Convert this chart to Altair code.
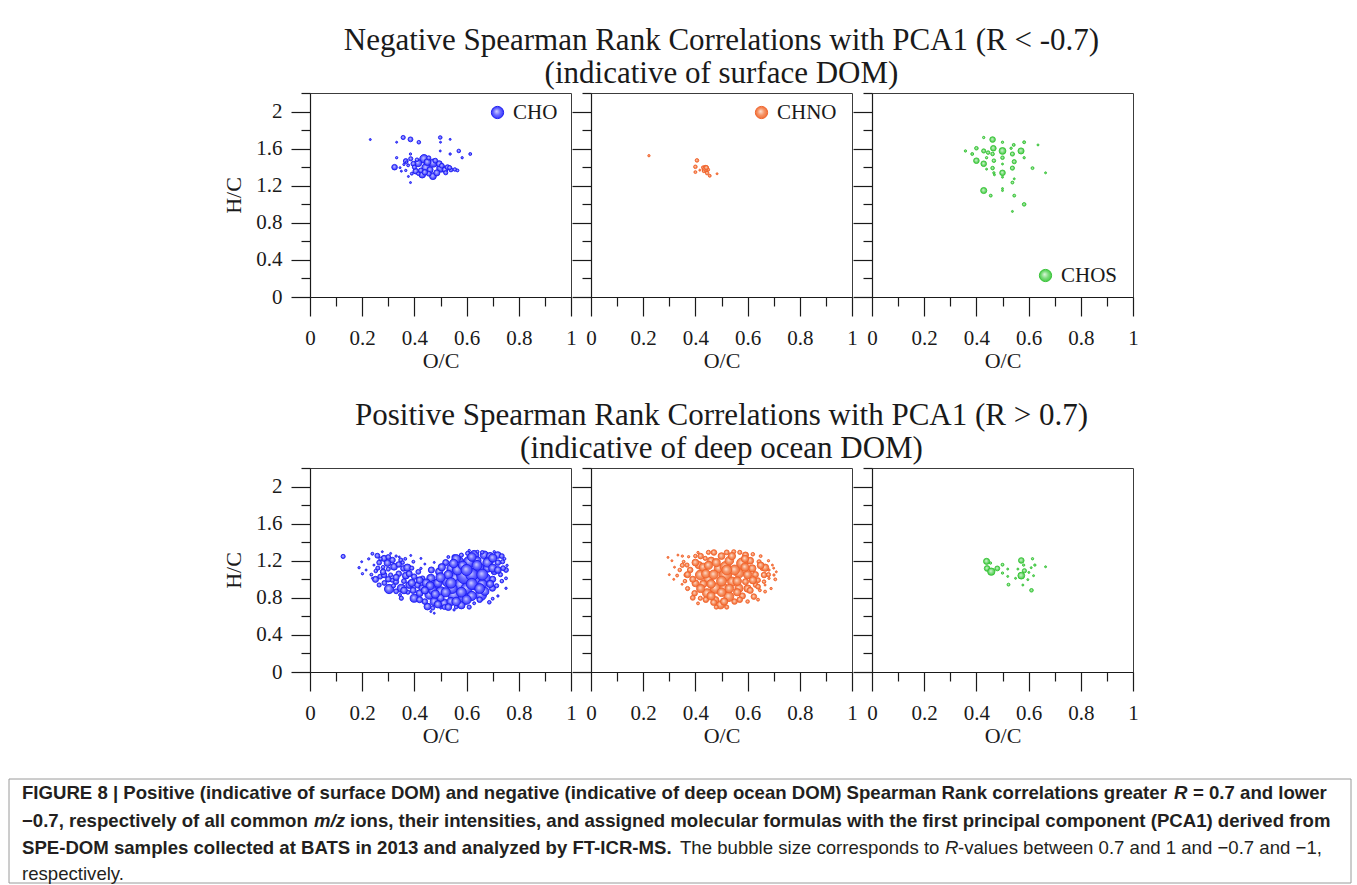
import altair as alt
import pandas as pd

SERIF = "Liberation Serif, Times New Roman, serif"
SANS = "Liberation Sans, Arial, sans-serif"

# ---- data: O/C ratio, H/C ratio and |R| for each assigned formula ----
# Negative correlations (surface DOM)
cho_neg_oc = [0.231, 0.332, 0.357, 0.385, 0.417, 0.499, 0.500, 0.537, 0.570, 0.614,
              0.583, 0.537, 0.499, 0.385, 0.332, 0.385, 0.377, 0.324, 0.367, 0.350,
              0.367, 0.437, 0.472, 0.444, 0.414, 0.501, 0.430, 0.471, 0.405, 0.486,
              0.517, 0.540, 0.460, 0.396, 0.386, 0.425, 0.450, 0.527, 0.495, 0.555,
              0.565, 0.520, 0.455, 0.400, 0.376, 0.360, 0.345, 0.410, 0.480, 0.505,
              0.535, 0.440, 0.415, 0.390, 0.370, 0.455]
cho_neg_hc = [1.698, 1.669, 1.720, 1.700, 1.669, 1.720, 1.669, 1.700, 1.575, 1.542,
              1.502, 1.542, 1.575, 1.542, 1.502, 1.234, 1.300, 1.400, 1.466, 1.357,
              1.365, 1.490, 1.444, 1.394, 1.444, 1.390, 1.320, 1.303, 1.357, 1.339,
              1.372, 1.372, 1.372, 1.437, 1.491, 1.365, 1.455, 1.400, 1.437, 1.375,
              1.365, 1.340, 1.330, 1.400, 1.420, 1.430, 1.395, 1.480, 1.470, 1.415,
              1.395, 1.345, 1.330, 1.330, 1.455, 1.500]
cho_neg_r = [0.700, 0.700, 0.709, 0.713, 0.706, 0.706, 0.700, 0.700, 0.706, 0.703,
             0.701, 0.701, 0.700, 0.701, 0.701, 0.700, 0.700, 0.718, 0.713, 0.700,
             0.701, 0.746, 0.740, 0.740, 0.733, 0.740, 0.728, 0.728, 0.718, 0.722,
             0.718, 0.709, 0.722, 0.713, 0.709, 0.713, 0.728, 0.713, 0.722, 0.706,
             0.703, 0.709, 0.713, 0.709, 0.703, 0.701, 0.700, 0.706, 0.713, 0.713,
             0.709, 0.718, 0.706, 0.703, 0.701, 0.709]

chno_neg_oc = [0.222, 0.406, 0.400, 0.400, 0.417, 0.438, 0.432, 0.445, 0.455, 0.428,
               0.449, 0.483, 0.442]
chno_neg_hc = [1.524, 1.473, 1.404, 1.347, 1.368, 1.383, 1.357, 1.336, 1.307, 1.400,
               1.372, 1.329, 1.395]
chno_neg_r = [0.701, 0.706, 0.706, 0.703, 0.700, 0.728, 0.703, 0.706, 0.703, 0.701,
              0.703, 0.700, 0.709]

chos_neg_oc = [0.428, 0.462, 0.500, 0.543, 0.583, 0.636, 0.358, 0.400, 0.384, 0.428,
               0.445, 0.465, 0.462, 0.500, 0.533, 0.538, 0.571, 0.500, 0.439, 0.583,
               0.400, 0.428, 0.467, 0.545, 0.500, 0.462, 0.439, 0.538, 0.615, 0.665,
               0.467, 0.469, 0.500, 0.500, 0.545, 0.538, 0.428, 0.455, 0.500, 0.500,
               0.545, 0.583, 0.538]
chos_neg_hc = [1.720, 1.698, 1.669, 1.640, 1.669, 1.640, 1.575, 1.604, 1.542, 1.575,
               1.557, 1.604, 1.542, 1.575, 1.604, 1.542, 1.575, 1.502, 1.502, 1.502,
               1.470, 1.437, 1.470, 1.459, 1.434, 1.390, 1.379, 1.390, 1.390, 1.339,
               1.339, 1.318, 1.339, 1.292, 1.274, 1.234, 1.148, 1.093, 1.169, 1.148,
               1.093, 0.999, 0.923]
chos_neg_r = [0.701, 0.718, 0.701, 0.703, 0.703, 0.700, 0.701, 0.706, 0.703, 0.709,
              0.706, 0.718, 0.706, 0.728, 0.701, 0.709, 0.722, 0.706, 0.701, 0.701,
              0.718, 0.718, 0.706, 0.709, 0.700, 0.706, 0.700, 0.709, 0.703, 0.700,
              0.701, 0.700, 0.718, 0.700, 0.700, 0.703, 0.722, 0.703, 0.700, 0.700,
              0.703, 0.706, 0.700]

# Positive correlations (deep ocean DOM)
cho_pos_oc = [0.127, 0.188, 0.198, 0.201, 0.239, 0.258, 0.277, 0.284, 0.297, 0.252,
              0.251, 0.269, 0.284, 0.265, 0.303, 0.316, 0.322, 0.309, 0.329, 0.348,
              0.358, 0.350, 0.350, 0.367, 0.373, 0.380, 0.399, 0.396, 0.399, 0.412,
              0.431, 0.431, 0.425, 0.450, 0.457, 0.463, 0.476, 0.476, 0.476, 0.495,
              0.501, 0.514, 0.527, 0.540, 0.552, 0.552, 0.559, 0.572, 0.578, 0.597,
              0.591, 0.610, 0.629, 0.636, 0.629, 0.648, 0.655, 0.668, 0.674, 0.687,
              0.687, 0.699, 0.706, 0.719, 0.738, 0.751, 0.751, 0.751, 0.706, 0.642,
              0.604, 0.552, 0.342, 0.386, 0.425, 0.440, 0.476, 0.501, 0.463, 0.418,
              0.239, 0.245, 0.309, 0.520, 0.530, 0.545, 0.565, 0.585, 0.600, 0.620,
              0.640, 0.660, 0.680, 0.700, 0.690, 0.720, 0.735, 0.730, 0.715, 0.670,
              0.620, 0.580, 0.540, 0.500, 0.490, 0.505, 0.465, 0.445, 0.470, 0.420,
              0.440, 0.395, 0.360, 0.340, 0.330, 0.285, 0.265, 0.300, 0.280, 0.315,
              0.355, 0.415, 0.390, 0.610, 0.650, 0.735, 0.745, 0.755, 0.660, 0.610,
              0.580, 0.530, 0.515, 0.470, 0.560, 0.720, 0.700, 0.225, 0.215, 0.235,
              0.270, 0.330, 0.365, 0.320, 0.375, 0.345, 0.560, 0.600, 0.640, 0.680,
              0.700, 0.660, 0.620, 0.580, 0.540, 0.520, 0.480, 0.500, 0.460, 0.550,
              0.620, 0.700, 0.720, 0.690, 0.650, 0.600, 0.560, 0.530, 0.490, 0.440,
              0.420, 0.390, 0.360, 0.330, 0.300, 0.280, 0.260, 0.300, 0.340, 0.380,
              0.420, 0.740]
cho_pos_hc = [1.246, 1.125, 1.189, 1.060, 1.275, 1.254, 1.297, 1.225, 1.175, 1.089,
              0.999, 1.028, 1.046, 0.938, 0.895, 1.207, 1.135, 1.046, 0.974, 1.207,
              1.117, 0.903, 0.795, 1.039, 1.125, 0.938, 1.028, 1.189, 0.795, 0.938,
              0.903, 1.010, 1.117, 0.706, 0.831, 1.010, 0.938, 0.759, 0.634, 1.082,
              0.867, 0.741, 0.974, 1.117, 0.831, 0.670, 1.010, 1.189, 0.938, 1.046,
              0.795, 1.189, 1.261, 0.956, 0.741, 1.117, 0.831, 1.261, 1.010, 1.207,
              0.752, 0.903, 1.082, 1.261, 1.189, 1.100, 1.010, 0.903, 1.297, 1.297,
              1.279, 1.243, 1.240, 1.257, 1.225, 1.164, 1.182, 0.688, 0.652, 0.867,
              1.010, 1.153, 1.279, 1.180, 1.050, 0.900, 1.100, 1.150, 0.900, 1.050,
              1.200, 0.950, 1.120, 1.000, 1.250, 1.180, 1.250, 1.050, 0.930, 0.870,
              0.820, 0.720, 0.760, 0.800, 0.960, 1.130, 1.100, 0.960, 0.880, 0.850,
              0.760, 0.880, 0.980, 1.060, 0.870, 0.960, 1.180, 1.110, 1.130, 0.990,
              1.180, 1.080, 1.120, 0.700, 0.780, 0.980, 1.220, 1.150, 1.290, 1.310,
              1.260, 1.240, 0.700, 0.690, 0.700, 0.820, 0.790, 1.220, 1.100, 1.050,
              1.220, 1.250, 1.220, 0.930, 0.860, 0.830, 1.220, 1.100, 1.150, 1.180,
              1.120, 1.050, 0.950, 0.860, 0.960, 0.860, 0.840, 1.020, 0.930, 1.170,
              1.240, 1.230, 1.100, 0.950, 0.900, 0.780, 0.760, 0.700, 0.730, 0.880,
              0.990, 0.960, 0.880, 1.020, 1.000, 1.080, 1.120, 1.240, 1.160, 1.060,
              0.780, 1.120]
cho_pos_r = [0.709, 0.701, 0.700, 0.701, 0.703, 0.713, 0.700, 0.722, 0.728, 0.706,
             0.722, 0.713, 0.718, 0.709, 0.754, 0.718, 0.728, 0.709, 0.718, 0.709,
             0.718, 0.740, 0.709, 0.728, 0.733, 0.728, 0.718, 0.703, 0.740, 0.722,
             0.733, 0.713, 0.701, 0.728, 0.746, 0.740, 0.754, 0.740, 0.700, 0.733,
             0.762, 0.746, 0.770, 0.740, 0.798, 0.701, 0.798, 0.754, 0.819, 0.924,
             0.798, 0.779, 0.754, 0.819, 0.703, 0.779, 0.779, 0.740, 0.754, 0.754,
             0.706, 0.722, 0.722, 0.728, 0.709, 0.713, 0.703, 0.701, 0.701, 0.703,
             0.709, 0.709, 0.700, 0.700, 0.700, 0.700, 0.700, 0.700, 0.700, 0.700,
             0.700, 0.700, 0.700, 0.722, 0.746, 0.762, 0.762, 0.746, 0.779, 0.798,
             0.740, 0.754, 0.740, 0.722, 0.733, 0.718, 0.713, 0.709, 0.709, 0.740,
             0.754, 0.733, 0.740, 0.733, 0.746, 0.733, 0.722, 0.740, 0.740, 0.728,
             0.718, 0.722, 0.713, 0.718, 0.713, 0.713, 0.713, 0.709, 0.706, 0.709,
             0.706, 0.713, 0.709, 0.709, 0.718, 0.706, 0.703, 0.701, 0.706, 0.701,
             0.709, 0.703, 0.713, 0.709, 0.706, 0.701, 0.703, 0.701, 0.700, 0.703,
             0.706, 0.701, 0.703, 0.709, 0.709, 0.703, 0.746, 0.779, 0.762, 0.754,
             0.740, 0.779, 0.779, 0.762, 0.770, 0.754, 0.740, 0.754, 0.740, 0.746,
             0.746, 0.740, 0.728, 0.733, 0.762, 0.754, 0.746, 0.728, 0.733, 0.733,
             0.728, 0.733, 0.728, 0.722, 0.718, 0.718, 0.709, 0.713, 0.718, 0.722,
             0.722, 0.713]

chno_pos_oc = [0.295, 0.333, 0.317, 0.349, 0.355, 0.368, 0.364, 0.374, 0.410, 0.400,
               0.397, 0.419, 0.419, 0.413, 0.445, 0.438, 0.471, 0.477, 0.496, 0.477,
               0.490, 0.515, 0.515, 0.528, 0.547, 0.541, 0.579, 0.567, 0.567, 0.592,
               0.592, 0.624, 0.618, 0.631, 0.644, 0.656, 0.667, 0.663, 0.663, 0.667,
               0.647, 0.682, 0.695, 0.701, 0.706, 0.682, 0.667, 0.380, 0.390, 0.430,
               0.450, 0.460, 0.500, 0.530, 0.550, 0.600, 0.610, 0.630, 0.640, 0.600,
               0.580, 0.550, 0.510, 0.460, 0.430, 0.440, 0.520, 0.480, 0.370, 0.360,
               0.340, 0.330, 0.350, 0.400, 0.450, 0.520, 0.570, 0.620, 0.650, 0.680,
               0.690, 0.640, 0.600, 0.410, 0.320, 0.310, 0.300, 0.700, 0.710, 0.420,
               0.440, 0.470, 0.500, 0.530, 0.560, 0.590, 0.620, 0.480, 0.540, 0.400,
               0.370, 0.460, 0.500, 0.560, 0.650, 0.610, 0.520, 0.450, 0.590, 0.420,
               0.390, 0.470, 0.640, 0.680, 0.350, 0.510, 0.570]
chno_pos_hc = [1.236, 1.261, 0.999, 0.946, 1.189, 1.153, 1.046, 1.243, 1.289, 0.956,
               0.849, 1.046, 0.795, 1.153, 0.849, 1.225, 1.289, 0.903, 0.724, 0.777,
               1.117, 1.046, 1.135, 0.813, 1.297, 0.974, 1.171, 0.903, 1.064, 1.261,
               0.974, 0.813, 1.117, 0.938, 1.189, 1.117, 1.125, 1.046, 0.974, 0.867,
               0.881, 1.100, 1.153, 1.046, 0.999, 1.010, 0.938, 1.100, 1.000, 1.130,
               1.000, 1.200, 1.250, 1.200, 1.100, 1.050, 1.200, 1.050, 0.990, 0.900,
               0.820, 0.760, 0.900, 0.950, 0.950, 0.780, 0.700, 0.700, 0.900, 0.980,
               1.100, 1.040, 1.250, 1.250, 1.290, 1.290, 1.290, 1.270, 1.250, 1.200,
               0.900, 0.780, 0.760, 0.740, 1.130, 1.200, 1.050, 1.120, 1.080, 0.900,
               1.060, 1.050, 0.980, 0.900, 0.980, 1.130, 0.990, 1.180, 1.250, 1.180,
               1.050, 0.820, 0.860, 0.860, 1.150, 0.880, 1.100, 1.150, 1.220, 1.250,
               0.800, 0.750, 0.920, 1.050, 1.150, 0.760, 0.780]
chno_pos_r = [0.700, 0.700, 0.700, 0.700, 0.703, 0.709, 0.709, 0.701, 0.701, 0.728,
              0.718, 0.762, 0.709, 0.733, 0.754, 0.709, 0.718, 0.770, 0.740, 0.728,
              0.754, 0.798, 0.770, 0.762, 0.709, 0.754, 0.779, 0.740, 0.754, 0.722,
              0.722, 0.718, 0.733, 0.713, 0.709, 0.709, 0.733, 0.718, 0.706, 0.703,
              0.703, 0.701, 0.700, 0.701, 0.703, 0.701, 0.700, 0.718, 0.722, 0.740,
              0.754, 0.733, 0.728, 0.746, 0.762, 0.740, 0.728, 0.722, 0.713, 0.733,
              0.722, 0.718, 0.754, 0.746, 0.733, 0.718, 0.709, 0.709, 0.709, 0.706,
              0.706, 0.703, 0.701, 0.706, 0.709, 0.713, 0.709, 0.706, 0.703, 0.701,
              0.701, 0.703, 0.706, 0.703, 0.700, 0.700, 0.700, 0.700, 0.700, 0.740,
              0.746, 0.754, 0.762, 0.746, 0.746, 0.740, 0.733, 0.740, 0.733, 0.728,
              0.722, 0.740, 0.746, 0.733, 0.728, 0.722, 0.762, 0.740, 0.733, 0.718,
              0.713, 0.722, 0.713, 0.709, 0.709, 0.733, 0.718]

chos_pos_oc = [0.439, 0.441, 0.457, 0.480, 0.500, 0.500, 0.454, 0.520, 0.520, 0.523,
               0.559, 0.572, 0.581, 0.584, 0.572, 0.578, 0.597, 0.601, 0.610, 0.615,
               0.619, 0.624, 0.611, 0.665, 0.550]
chos_pos_hc = [1.193, 1.117, 1.082, 1.117, 1.157, 1.067, 1.175, 1.110, 1.031, 0.942,
               1.110, 1.203, 1.153, 1.092, 1.039, 0.938, 0.996, 1.074, 1.125, 1.221,
               1.039, 1.153, 0.881, 1.135, 1.010]
chos_pos_r = [0.722, 0.718, 0.733, 0.713, 0.703, 0.701, 0.701, 0.700, 0.700, 0.703,
              0.700, 0.718, 0.701, 0.709, 0.728, 0.700, 0.700, 0.700, 0.700, 0.701,
              0.700, 0.701, 0.706, 0.700, 0.700]

X_TICKS = [0.0, 0.1, 0.2, 0.3, 0.4, 0.5, 0.6, 0.7, 0.8, 0.9, 1.0]
Y_TICKS = [0.0, 0.2, 0.4, 0.6, 0.8, 1.0, 1.2, 1.4, 1.6, 1.8, 2.0, 2.2]

TITLE_NEG = ["Negative Spearman Rank Correlations with PCA1 (R < -0.7)",
             "(indicative of surface DOM)"]
TITLE_POS = ["Positive Spearman Rank Correlations with PCA1 (R > 0.7)",
             "(indicative of deep ocean DOM)"]

CAPTION = [
    ["FIGURE 8 | Positive (indicative of surface DOM) and negative (indicative of deep ocean DOM) Spearman Rank correlations greater",
     "R", "= 0.7 and lower"],
    ["\u22120.7, respectively of all common", "m/z",
     "ions, their intensities, and assigned molecular formulas with the first principal component (PCA1) derived from"],
    ["SPE-DOM samples collected at BATS in 2013 and analyzed by FT-ICR-MS.",
     "The bubble size corresponds to", "R",
     "-values between 0.7 and 1 and \u22120.7 and \u22121,"],
    ["respectively."],
]

# ---- styling ----
STYLE = {
    "CHO": {"edge": "#1c1cf0", "legend": "#5a5aff",
            "stops": [(0, "#d2d2ff"), (0.5, "#6c6cff"), (1, "#2c2cff")]},
    "CHNO": {"edge": "#f0622a", "legend": "#f5875a",
             "stops": [(0, "#fde2d4"), (0.5, "#f69466"), (1, "#f06a32")]},
    "CHOS": {"edge": "#36c236", "legend": "#62d562",
             "stops": [(0, "#dcf7dc"), (0.5, "#80dd80"), (1, "#3ec83e")]},
}
PANEL_W, PANEL_H = 261, 204
COL_GAP, ROW_GAP = 20, 171
INK = "#1a1a1a"


def sphere(stops):
    return alt.RadialGradient(
        gradient="radial", x1=0.42, y1=0.4, r1=0, x2=0.5, y2=0.5, r2=0.55,
        stops=[alt.GradientStop(offset=o, color=c) for o, c in stops])


def tick_len(test):
    return {"condition": {"test": test, "value": 19}, "value": 9}


X_MAJOR = "round(datum.value * 10) % 2 === 0"
Y_MAJOR = "round(datum.value * 10) % 4 === 0"


def scatter(oc, hc, r, family, first, legend_xy=None):
    st = STYLE[family]
    df = pd.DataFrame({"oc": oc, "hc": hc, "r": r, "family": family})
    x_axis = alt.Axis(values=X_TICKS, title="O/C", tickSize=tick_len(X_MAJOR),
                      labelExpr=f"{X_MAJOR} ? format(datum.value, '~g') : ''",
                      labelPadding=11, titlePadding=2, labelFlush=False,
                      labelOverlap=False)
    if first:
        y_axis = alt.Axis(values=Y_TICKS, title="H/C", tickSize=tick_len(Y_MAJOR),
                          labelExpr=f"{Y_MAJOR} ? format(datum.value, '~g') : ''",
                          labelPadding=9, titlePadding=10, labelFlush=False,
                          labelOverlap=False)
    else:
        y_axis = alt.Axis(values=Y_TICKS, title=None, labels=False,
                          tickSize=tick_len(Y_MAJOR))
    if legend_xy is None:
        legend = None
    else:
        legend = alt.Legend(
            title=None, orient="none", legendX=legend_xy[0], legendY=legend_xy[1],
            symbolType="circle", symbolSize=150, symbolStrokeWidth=1,
            symbolFillColor=st["legend"], symbolStrokeColor=st["edge"],
            labelFont=SERIF, labelFontSize=21, labelColor=INK, labelOffset=5,
            padding=0,
        )
    return alt.Chart(df).mark_circle(
        fill=sphere(st["stops"]), strokeWidth=0.9, opacity=1
    ).encode(
        x=alt.X("oc:Q", scale=alt.Scale(domain=[0, 1], nice=False), axis=x_axis),
        y=alt.Y("hc:Q", scale=alt.Scale(domain=[0, 2.2], nice=False), axis=y_axis),
        size=alt.Size("r:Q", scale=alt.Scale(domain=[0.7, 1.0], range=[4, 460]),
                      legend=None),
        stroke=alt.Stroke("family:N",
                          scale=alt.Scale(domain=[family], range=[st["edge"]]),
                          legend=legend),
    )


def heading(lines):
    """Two-line row heading, centred over the middle panel of the row."""
    mid = (3 * PANEL_W + 2 * COL_GAP) / 2 - PANEL_W - COL_GAP
    return [
        alt.Chart(pd.DataFrame({"t": [txt]})).mark_text(
            align="center", baseline="alphabetic", font=SERIF, fontSize=31,
            color=INK,
        ).encode(text="t:N", x=alt.value(mid), y=alt.value(y))
        for txt, y in zip(lines, [-43.5, -10])
    ]


# caption box, drawn below the lower-left panel
CAP_LEFT, CAP_RIGHT, CAP_TOP, CAP_BOTTOM = -301, 1041, 311, 415
CAP_X = [[-288, 864, 883], [-288, 4, 40], [-288, 370, 635, 648], [-288]]
CAP_Y = [325, 353, 380, 406]
CAP_STYLE = [
    [("bold", "normal"), ("bold", "italic"), ("bold", "normal")],
    [("bold", "normal"), ("bold", "italic"), ("bold", "normal")],
    [("bold", "normal"), ("normal", "normal"), ("normal", "italic"), ("normal", "normal")],
    [("normal", "normal")],
]


def caption_layers():
    box = alt.Chart(pd.DataFrame({"k": [0]})).mark_rect(
        fillOpacity=0, stroke="#9a9a9a", strokeWidth=1
    ).encode(x=alt.value(CAP_LEFT), x2=alt.value(CAP_RIGHT),
             y=alt.value(CAP_TOP), y2=alt.value(CAP_BOTTOM))
    out = [box]
    for i, line in enumerate(CAPTION):
        for j, seg in enumerate(line):
            w, s = CAP_STYLE[i][j]
            out.append(
                alt.Chart(pd.DataFrame({"t": [seg]})).mark_text(
                    align="left", baseline="middle", font=SANS, fontSize=18.6,
                    fontWeight=w, fontStyle=s, color="#231f20",
                ).encode(text="t:N", x=alt.value(CAP_X[i][j]), y=alt.value(CAP_Y[i]))
            )
    return out


def panel(layers):
    return alt.layer(*layers).properties(width=PANEL_W, height=PANEL_H)


panels = [
    panel([scatter(cho_neg_oc, cho_neg_hc, cho_neg_r, "CHO", True, (177, 9))]),
    panel([scatter(chno_neg_oc, chno_neg_hc, chno_neg_r, "CHNO", False, (160, 9))]
          + heading(TITLE_NEG)),
    panel([scatter(chos_neg_oc, chos_neg_hc, chos_neg_r, "CHOS", False, (163, 172))]),
    panel([scatter(cho_pos_oc, cho_pos_hc, cho_pos_r, "CHO", True)] + caption_layers()),
    panel([scatter(chno_pos_oc, chno_pos_hc, chno_pos_r, "CHNO", False)]
          + heading(TITLE_POS)),
    panel([scatter(chos_pos_oc, chos_pos_hc, chos_pos_r, "CHOS", False)]),
]

chart = alt.concat(
    *panels, columns=3, bounds="flush",
    spacing={"row": ROW_GAP, "column": COL_GAP},
).resolve_scale(stroke="independent").resolve_legend(stroke="independent").properties(
    padding={"left": 8, "top": 24, "right": 4, "bottom": 0}, background="white"
).configure_view(stroke="#3c3c3c", strokeWidth=1).configure_axis(
    grid=False, domainColor=INK, domainWidth=1.2, tickColor=INK, tickWidth=1.2,
    labelFont=SERIF, labelFontSize=21, labelColor=INK,
    titleFont=SERIF, titleFontSize=22, titleFontWeight="normal", titleColor=INK,
)

chart.save("out.html", embed_options={"renderer": "svg", "actions": False})
